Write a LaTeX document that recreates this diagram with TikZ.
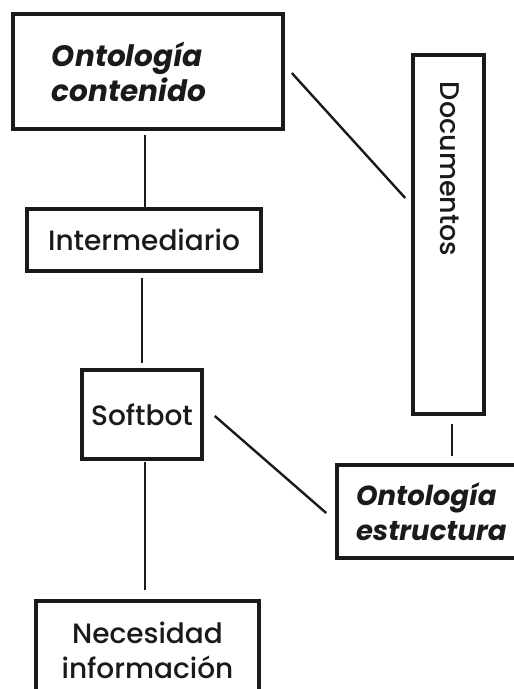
\documentclass[tikz,border=0pt]{standalone}
\usepackage{fontspec}
\setmainfont{Poppins}
\newfontfamily\medfont{Poppins Medium}
\definecolor{ink}{HTML}{1A1A1A}
\begin{document}
\begin{tikzpicture}[x=1pt,y=-1pt,
  box/.style={draw=ink,line width=3.6pt,inner sep=0pt,align=center,text=ink,
    font=\medfont\fontsize{28}{35}\selectfont},
  bbox/.style={box,align=left,font=\fontsize{29.5}{35}\selectfont\bfseries\itshape},
  link/.style={draw=ink,line width=2.4pt}]
\useasboundingbox (0,0) rectangle (514,689);
\clip (0,0) rectangle (514,689);
\fill[white] (0,0) rectangle (514,689);
\node[bbox,minimum width=270pt,minimum height=115pt,text width=192pt] (oc) at (148,71.5) {Ontología\\contenido};
\node[box,minimum width=234pt,minimum height=62pt] (inter) at (144,240) {Intermediario};
\node[box,minimum width=120pt,minimum height=89pt] (soft) at (142,414.5) {Softbot};
\node[box,minimum width=71pt,minimum height=359pt] (doc) at (448.5,234.5) {};
\node[rotate=-90,text=ink,font=\medfont\fontsize{27}{35}\selectfont,inner sep=0pt] (doclbl) at (450,169) {Documentos};
\node[bbox,font=\fontsize{27.5}{35}\selectfont\bfseries\itshape,minimum width=198pt,minimum height=93pt,text width=160pt] (oe) at (436,511.5) {Ontología\\estructura};
\node[box,minimum width=223pt,minimum height=98pt] (nec) at (147.5,650) {Necesidad\\información};
\draw[link] ([xshift=-3pt,yshift=-4pt]oc.south) -- ([xshift=-3pt]oc.south |- inter.north);
\draw[link] ([xshift=-2pt,yshift=-5pt]inter.south) -- ([yshift=5pt]soft.north);
\draw[link] ([xshift=3pt,yshift=-1pt]soft.south) -- ([xshift=-2.5pt,yshift=9pt]nec.north);
\draw[link] ([xshift=3.5pt,yshift=-8pt]doc.south) -- ([xshift=3.5pt,yshift=7pt]doc.south |- oe.north);
\draw[link] ([xshift=7pt,yshift=-1.5pt]oc.east) -- ([xshift=-6pt,yshift=36.5pt]doc.west);
\draw[link] ([xshift=11pt,yshift=-1.5pt]soft.east) -- ([xshift=-9pt,yshift=-1.5pt]oe.west);
\end{tikzpicture}
\end{document}
